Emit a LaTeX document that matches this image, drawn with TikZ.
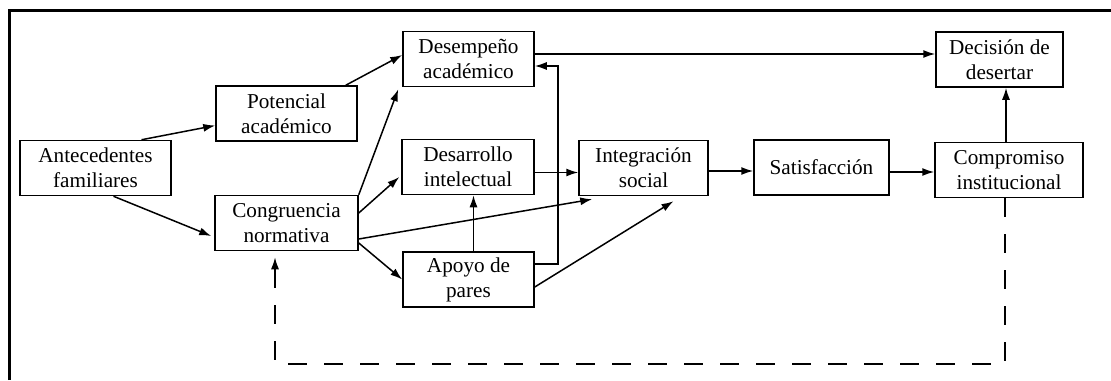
\documentclass[tikz,border=0pt]{standalone}
\usepackage{fontspec}
\setmainfont{Liberation Serif}
\usetikzlibrary{positioning,arrows.meta}

\begin{document}
\begin{tikzpicture}[x=0.5pt, y=-0.5pt,
		caja/.style={draw, line width=0.75pt, align=center, minimum height=27.5pt, inner sep=1pt, font=\fontsize{10.6}{12.5}\selectfont},
		flecha/.style={-{Latex[length=6pt,width=4pt]}, line width=0.75pt}]
		\useasboundingbox (0,0) rectangle (1111,380);
		\draw[line width=1.5pt] (9,380) -- (9,10) -- (1111,10);
		\node[caja, minimum width=75.5pt] (ant) at (95.5,168) {Antecedentes\\familiares};
		\node[caja, minimum width=70.5pt] (pot) at (286.5,113.5) {Potencial\\acad\'emico};
		\node[caja, minimum width=71.5pt] (cong) at (286.5,223) {Congruencia\\normativa};
		\node[caja, minimum width=65.5pt] (desem) at (468.5,59) {Desempe\~no\\acad\'emico};
		\node[caja, minimum width=66pt] (desar) at (468,167) {Desarrollo\\intelectual};
		\node[caja, minimum width=65.5pt] (apoyo) at (468.5,279.5) {Apoyo de\\pares};
		\node[caja, minimum width=64.5pt] (integ) at (643.5,168) {Integraci\'on\\social};
		\node[caja, minimum width=67.5pt] (satis) at (821.5,167.5) {Satisfacci\'on};
		\node[caja, minimum width=74pt] (comp) at (1009,170) {Compromiso\\institucional};
		\node[caja, minimum width=63.5pt] (decis) at (999.5,59.5) {Decisi\'on de\\desertar};
		\coordinate (vuelta) at (1005,364);
		\draw[flecha] ([xshift=23pt]ant.north) -- ([yshift=-6pt]pot.west);
		\draw[flecha] ([xshift=9pt]ant.south) -- ([xshift=-1.5pt,yshift=-6.5pt]cong.west);
		\draw[flecha] ([xshift=-6pt]pot.north east) -- ([yshift=2pt]desem.west);
		\draw[flecha] (cong.north east) -- ([xshift=-2pt,yshift=-1pt]desem.south west);
		\draw[flecha] ([yshift=5pt]cong.east) -- ([xshift=-1pt,yshift=-5pt]desar.west);
		\draw[flecha] ([yshift=-8pt]cong.east) -- ([xshift=7pt,yshift=-1.5pt]integ.south west);
		\draw[flecha] ([yshift=-10pt]cong.east) -- (apoyo.west);
		\draw[flecha] ([yshift=2.5pt]desem.east) coordinate (d0) -- (d0 -| decis.west);
		\draw[flecha] ([yshift=7.75pt]apoyo.east) -- ++(11.5pt,0) |- ([yshift=-3.5pt]desem.east);
		\draw[flecha] ([xshift=2.5pt]apoyo.north) coordinate (a0) -- (a0 |- desar.south);
		\draw[flecha] ([yshift=-3.75pt]apoyo.east) -- ([xshift=15pt,yshift=-2.5pt]integ.south);
		\draw[flecha] ([yshift=-2.75pt]desar.east) coordinate (d1) -- (d1 -| integ.west);
		\draw[flecha] ([yshift=-1.5pt]integ.east) coordinate (i1) -- (i1 -| satis.west);
		\draw[flecha] ([yshift=-2.25pt]satis.east) coordinate (s1) -- (s1 -| comp.west);
		\draw[flecha] ([xshift=-1.5pt]comp.north) coordinate (c1) -- (c1 |- decis.south);
		\draw[flecha, dash pattern=on 9.5pt off 8.5pt] ([xshift=-2pt]comp.south) -- (vuelta) -| ([xshift=-5.75pt,yshift=-3pt]cong.south);
	\end{tikzpicture}
\end{document}
